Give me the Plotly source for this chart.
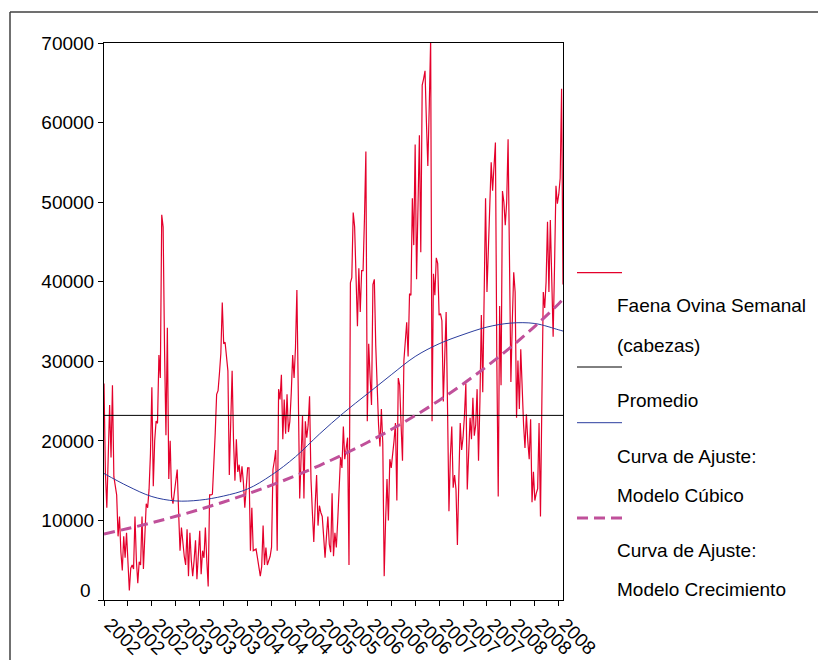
import plotly.graph_objects as go

# Weekly sheep slaughter (heads), 2002 - early 2008
faena_semanal = [
    27200, 16000, 11600, 20000, 24500, 17900, 27000, 15500, 14000, 13200,
    8000, 10500, 6000, 3700, 8000, 5300, 8450, 4500, 1200, 4000,
    4400, 3900, 10500, 5000, 2100, 4800, 4400, 10500, 3900, 8000,
    12100, 11600, 13900, 18400, 26750, 14300, 20000, 22500, 22200, 30800,
    27900, 48400, 46900, 31500, 20700, 34200, 15200, 20000, 13000, 12100,
    13600, 15000, 16400, 11000, 6200, 9100, 7000, 5500, 4400, 8900,
    3000, 8450, 5000, 3000, 5000,
    7500, 2600, 6000, 8700, 3250, 6200, 5300, 9100, 5000, 1700,
    13200, 13200, 13300, 16800, 21000, 25850, 26300, 28500, 31000, 37400,
    32200, 32400, 30000, 28800, 15700, 22000, 28800, 20000, 15000, 20200,
    16100, 17000, 14800, 16800, 14800, 11600, 14000, 16600, 16600, 6200,
    11600, 6200, 6300, 6400, 5300, 4000, 3000, 4200, 9350, 4400,
    6600, 4400, 5000, 5500, 6650, 16400, 17500, 18850, 6200, 26500,
    25200, 28300, 20200,
    25200, 20900, 25850, 21100, 22450, 26000, 30800, 27900, 31700, 38950,
    25000, 12750, 18000, 23150, 12750, 22450, 20400, 22000, 25600, 15200,
    11000, 7300, 12000, 15700, 9350, 11850, 11000, 10500, 8000, 5300,
    8000, 10500, 7000, 6000, 13400, 5500, 8450, 6600, 10000, 14000,
    17950, 16600, 21800, 17700, 19000, 20400, 4400, 39850, 40500, 48700,
    46900, 40000, 34400, 41700, 36200, 41400, 41400, 48000, 56350, 22450,
    32200, 28000, 24500, 39650,
    40300, 32000, 25200, 22000, 19300, 24000, 19750, 3000, 10000, 15200,
    10000, 17700, 16600, 17950, 20000, 22250, 12500, 27900, 27000, 22000,
    17500, 30100, 32000, 34900, 30600, 38500, 38300, 50500, 44600, 57250,
    40300, 50000, 58400, 43700, 64700, 65500, 66500, 60000, 54550, 62000,
    70500, 22450, 41000, 38300, 43000, 42300, 35800, 36000, 35100, 24950,
    30000, 36200, 24000, 11150, 18000, 21800, 14100, 15700, 13900, 6900,
    15000,
    22250, 18850, 20400, 23150, 27200, 13900, 19100, 22900, 20200, 25400,
    20650, 22000, 26500, 17500, 25000, 35800, 26100, 40000, 50500, 38700,
    45000, 48000, 55000, 51450, 54000, 57500, 30000, 13000, 36950, 27000,
    51400, 50000, 47100, 50000, 57900, 38050, 27400, 35000, 41200, 38700,
    22900, 30100, 24000, 31500, 26000, 22000, 19100, 23350, 20000, 17700,
    22700, 12300, 16100, 12500, 13400, 14000, 22250, 10500, 25000, 38700,
    36700, 40000, 47550, 38700, 47750, 40000, 33100, 42000, 52050, 49800,
    51000, 53000, 64250, 39650,
]

promedio = 23200

# Axis labels every 17 weeks
paso_ticks = 17
etiquetas_x = [
    "2002", "2002", "2002", "2003", "2003", "2003", "2004", "2004", "2004", "2005",
    "2005", "2006", "2006", "2006", "2007", "2007", "2007", "2008", "2008", "2008",
]

# Fitted curves, sampled at every tick week plus the last week
curva_cubica = [
    15900, 14300, 13000, 12450, 12550, 13070, 13950, 15700, 18000, 20850,
    23500, 25900, 28300, 30600, 32200, 33350, 34300, 34800, 34750, 33950,
    33800,
]
curva_crecimiento = [
    8300, 8980, 9720, 10520, 11380, 12320, 13330, 14430, 15610, 16900,
    18290, 19790, 21420, 23180, 25080, 27150, 29380, 31790, 34400, 37230,
    37800,
]

n = len(faena_semanal)
semanas = list(range(n))
tick_pos = list(range(0, n, paso_ticks))[: len(etiquetas_x)]
x_curvas = tick_pos + [n - 1]

ROJO = "#e4002b"
AZUL = "#2b3d9e"
MAGENTA = "#c0509a"
FUENTE = "Liberation Sans, Arial, sans-serif"
TAM = 19

fig = go.Figure()
fig.add_trace(go.Scatter(x=semanas, y=faena_semanal, mode="lines",
                         line=dict(color=ROJO, width=1.2), showlegend=False))
fig.add_trace(go.Scatter(x=[0, n - 1], y=[promedio, promedio], mode="lines",
                         line=dict(color="black", width=1), showlegend=False))
fig.add_trace(go.Scatter(x=x_curvas, y=curva_cubica, mode="lines",
                         line=dict(color=AZUL, width=1, shape="spline"),
                         showlegend=False))
fig.add_trace(go.Scatter(x=x_curvas, y=curva_crecimiento, mode="lines",
                         line=dict(color=MAGENTA, width=3, dash="11px,6px",
                                   shape="spline"),
                         showlegend=False))

# Geometry of the plotting area (pixels) used to place the side legend
L, R, T, B = 104, 563, 43, 600
W, H = 818, 660


def px(x):
    return (x - L) / (R - L)


def py(y):
    return (B - y) / (B - T)


shapes = []
# outer frame (top and left edges)
shapes.append(dict(type="line", xref="paper", yref="paper",
                   x0=px(10), x1=px(818), y0=py(12), y1=py(12),
                   line=dict(color="#404040", width=1.5)))
shapes.append(dict(type="line", xref="paper", yref="paper",
                   x0=px(10), x1=px(10), y0=py(12), y1=py(660),
                   line=dict(color="#404040", width=1.5)))

# legend samples
muestras = [
    (272.7, dict(color=ROJO, width=1.2)),
    (367, dict(color="black", width=1)),
    (422.7, dict(color=AZUL, width=1)),
    (518, dict(color=MAGENTA, width=3, dash="11px,6px")),
]
for yy, ln in muestras:
    shapes.append(dict(type="line", xref="paper", yref="paper",
                       x0=px(577), x1=px(622), y0=py(yy), y1=py(yy), line=ln))

textos = [
    (305, "Faena Ovina Semanal"),
    (345, "(cabezas)"),
    (400, "Promedio"),
    (456.7, "Curva de Ajuste:"),
    (495, "Modelo Cúbico"),
    (550, "Curva de Ajuste:"),
    (589, "Modelo Crecimiento"),
]
annotations = []
for yy, txt in textos:
    annotations.append(dict(xref="paper", yref="paper", x=px(615), y=py(yy),
                            xanchor="left", yanchor="middle", text=txt,
                            showarrow=False,
                            font=dict(family=FUENTE, size=TAM, color="black")))
# zero label sits a little above the bottom axis
annotations.append(dict(xref="paper", yref="paper", x=px(93), y=py(590),
                        xanchor="right", yanchor="middle", text="0",
                        showarrow=False,
                        font=dict(family=FUENTE, size=TAM, color="black")))

y_vals = list(range(0, 70001, 10000))
y_text = ["" if v == 0 else str(v) for v in y_vals]

fig.update_layout(
    width=W, height=H, autosize=False,
    margin=dict(l=L, r=W - R, t=T, b=H - B, pad=0),
    paper_bgcolor="white", plot_bgcolor="white",
    font=dict(family=FUENTE, size=TAM, color="black"),
    shapes=shapes, annotations=annotations,
    xaxis=dict(range=[0, n - 1], tickmode="array", tickvals=tick_pos,
               ticktext=etiquetas_x, tickangle=45, ticks="outside",
               ticklen=5, tickcolor="black", showline=True,
               linecolor="black", linewidth=1, mirror=True,
               showgrid=False, zeroline=False, automargin=False,
               ticklabelshift=6,
               tickfont=dict(family=FUENTE, size=TAM)),
    yaxis=dict(range=[0, 70000], tickmode="array", tickvals=y_vals,
               ticktext=y_text, ticks="outside", ticklen=5,
               tickcolor="black", showline=True, linecolor="black",
               linewidth=1, mirror=True, showgrid=False, zeroline=False,
               automargin=False,
               tickfont=dict(family=FUENTE, size=TAM)),
)

fig.write_html("out.html")
